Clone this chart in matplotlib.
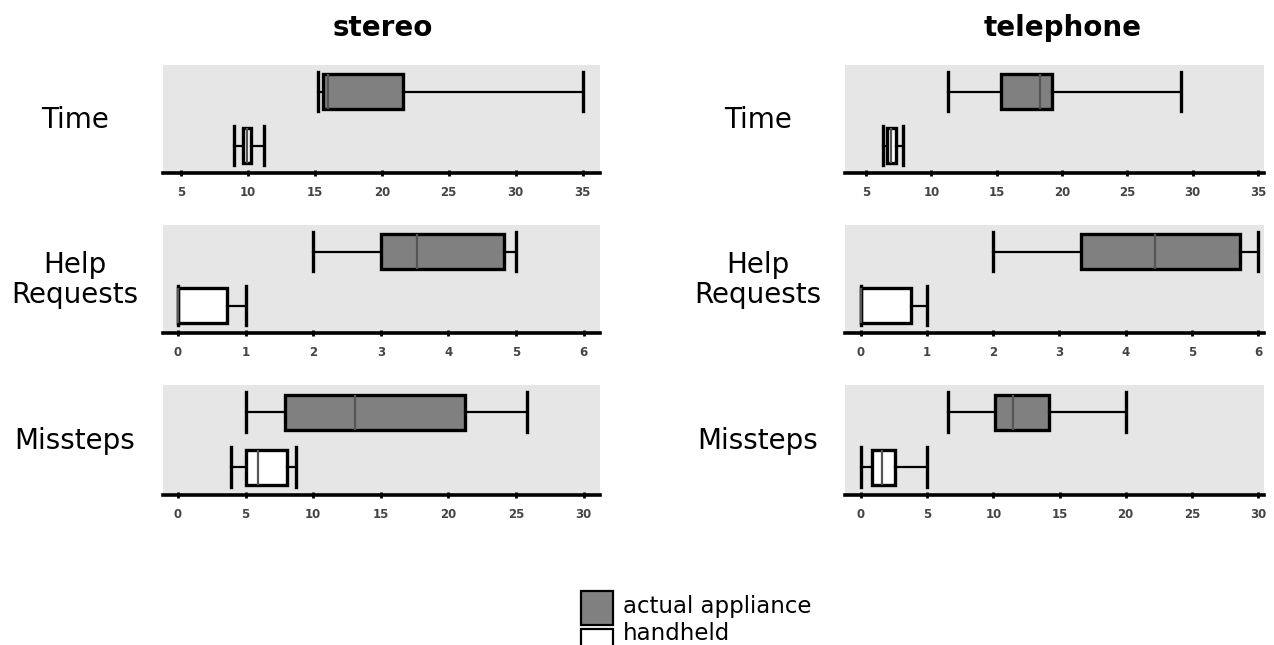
import numpy as np
import matplotlib.pyplot as plt

# box stats: (whislo, q1, med, q3, whishi)
measures = ['Time', 'Help\nRequests', 'Missteps']
appliances = ['stereo', 'telephone']

stereo_actual = [(15.2, 15.6, 16.0, 21.6, 35.0),
                 (2.0, 3.0, 3.53, 4.82, 5.0),
                 (5.0, 7.9, 13.1, 21.2, 25.8)]
stereo_handheld = [(9.0, 9.6, 9.9, 10.2, 11.2),
                   (0.0, 0.0, 0.0, 0.73, 1.0),
                   (3.9, 5.0, 5.9, 8.1, 8.7)]
phone_actual = [(11.3, 15.3, 18.3, 19.2, 29.1),
                (2.0, 3.32, 4.44, 5.72, 6.0),
                (6.6, 10.1, 11.5, 14.2, 20.0)]
phone_handheld = [(6.3, 6.6, 6.9, 7.3, 7.8),
                  (0.0, 0.0, 0.0, 0.75, 1.0),
                  (0.0, 0.8, 1.6, 2.6, 5.0)]

xticks = [np.arange(5, 36, 5), np.arange(0, 7, 1), np.arange(0, 31, 5)]
xlims_left = [(3.66, 36.3), (-0.22, 6.24), (-1.1, 31.2)]
xlims_right = [(3.39, 35.46), (-0.24, 6.09), (-1.21, 30.45)]

fig = plt.figure(figsize=(12.74, 6.45), dpi=100)

rows_y = [(65, 173), (225, 333), (385, 495)]
cols_x = [(163, 600), (845, 1264)]
W, H = 1274, 645


def stats(t):
    lo, q1, med, q3, hi = t
    return dict(whislo=lo, q1=q1, med=med, q3=q3, whishi=hi, fliers=[])


for c, (actual, handheld, xlims) in enumerate([(stereo_actual, stereo_handheld, xlims_left),
                                              (phone_actual, phone_handheld, xlims_right)]):
    x0, x1 = cols_x[c]
    for r in range(3):
        y0, y1 = rows_y[r]
        ax = fig.add_axes([x0 / W, 1 - y1 / H, (x1 - x0) / W, (y1 - y0) / H])
        ax.set_facecolor('#e6e6e6')
        for fill, pos, t in [('#808080', 0.745, actual[r]), ('white', 0.23, handheld[r])]:
            ax.bxp([stats(t)], positions=[pos], widths=0.33, vert=False,
                   showfliers=False, patch_artist=True, capwidths=[0.37],
                   boxprops=dict(facecolor=fill, edgecolor='black', linewidth=2.4),
                   medianprops=dict(color='#555555', linewidth=1.6),
                   whiskerprops=dict(color='black', linewidth=1.6),
                   capprops=dict(color='black', linewidth=2.4))
        ax.set_xlim(*xlims[r])
        ax.set_ylim(-0.03, 1)
        ax.set_xticks(xticks[r])
        ax.set_yticks([])
        for s in ['top', 'right', 'left']:
            ax.spines[s].set_visible(False)
        ax.spines['bottom'].set_linewidth(2.6)
        ax.tick_params(axis='x', direction='inout', length=5, width=2,
                       labelsize=8.5, pad=7, labelcolor='#444444')
        for lab in ax.get_xticklabels():
            lab.set_fontweight('bold')
        # row label
        lx = 75 if c == 0 else 758
        fig.text(lx / W, 1 - ((y0 + y1) / 2 + 1) / H, measures[r],
                 ha='center', va='center', fontsize=20, linespacing=1.05)

fig.text(383 / W, 1 - 28 / H, 'stereo', ha='center', va='center',
         fontsize=20, fontweight='bold')
fig.text(1063 / W, 1 - 28 / H, 'telephone', ha='center', va='center',
         fontsize=20, fontweight='bold')

# legend drawn by hand at the bottom
leg = fig.add_axes([0, 0, 1, 1], facecolor='none')
leg.set_xlim(0, W)
leg.set_ylim(H, 0)
leg.axis('off')
leg.add_patch(plt.Rectangle((581, 591), 32, 34, facecolor='#808080',
                            edgecolor='black', linewidth=1.6))
leg.add_patch(plt.Rectangle((581, 629), 32, 34, facecolor='white',
                            edgecolor='black', linewidth=1.6, clip_on=True))
leg.text(623, 607, 'actual appliance', ha='left', va='center', fontsize=16.5)
leg.text(623, 634, 'handheld', ha='left', va='center', fontsize=16.5)

fig.savefig('out.png', dpi=100)
